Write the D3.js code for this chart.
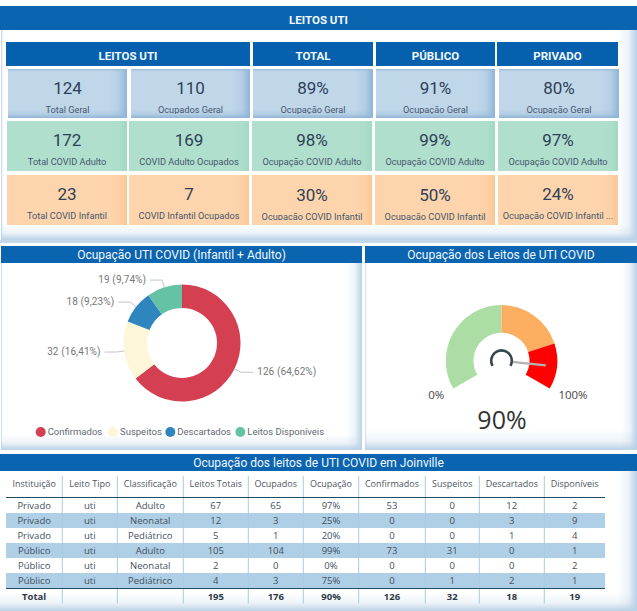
<!DOCTYPE html>
<html>
<head>
<meta charset="utf-8">
<style>
  html, body { margin: 0; padding: 0; background: #fff; overflow: hidden; }
  svg { display: block; }
  text { font-family: Roboto, sans-serif; }
</style>
</head>
<body>
<svg id="chart"></svg>
<script src="https://cdn.jsdelivr.net/npm/d3@7"></script>
<script>
const width = 637;
const height = 611;

// cards
const columnTitles = ['LEITOS UTI', 'TOTAL', 'PÚBLICO', 'PRIVADO'];
const cardValues = [
  ['124', '110', '89%', '91%', '80%'],
  ['172', '169', '98%', '99%', '97%'],
  ['23', '7', '30%', '50%', '24%']
];
const cardLabels = [
  ['Total Geral', 'Ocupados Geral', 'Ocupação Geral', 'Ocupação Geral', 'Ocupação Geral'],
  ['Total COVID Adulto', 'COVID Adulto Ocupados', 'Ocupação COVID Adulto', 'Ocupação COVID Adulto', 'Ocupação COVID Adulto'],
  ['Total COVID Infantil', 'COVID Infantil Ocupados', 'Ocupação COVID Infantil', 'Ocupação COVID Infantil', 'Ocupação COVID Infantil ...']
];

// donut
const donutNames = ['Confirmados', 'Suspeitos', 'Descartados', 'Leitos Disponíveis'];
const donutValues = [126, 32, 18, 19];
const donutPercents = ['64,62%', '16,41%', '9,23%', '9,74%'];
const donutColors = ['#d53f52', '#fdf6d8', '#2f85bd', '#66c2a5'];

// gauge
const gaugeValue = 90;
const gaugeStops = [0, 50, 80, 100];
const gaugeColors = ['#abdda4', '#fdae61', '#ff0000'];

// table
const tableHeader = ['Instituição', 'Leito Tipo', 'Classificação', 'Leitos Totais', 'Ocupados', 'Ocupação', 'Confirmados', 'Suspeitos', 'Descartados', 'Disponíveis'];
const tableRows = [
  ['Privado', 'uti', 'Adulto', '67', '65', '97%', '53', '0', '12', '2'],
  ['Privado', 'uti', 'Neonatal', '12', '3', '25%', '0', '0', '3', '9'],
  ['Privado', 'uti', 'Pediátrico', '5', '1', '20%', '0', '0', '1', '4'],
  ['Público', 'uti', 'Adulto', '105', '104', '99%', '73', '31', '0', '1'],
  ['Público', 'uti', 'Neonatal', '2', '0', '0%', '0', '0', '0', '2'],
  ['Público', 'uti', 'Pediátrico', '4', '3', '75%', '0', '1', '2', '1']
];
const tableTotal = ['Total', '', '', '195', '176', '90%', '126', '32', '18', '19'];

const blue = '#0a64b0';
const edgeBlue = '#b9d1e7';

const svg = d3.select('#chart')
  .attr('width', width)
  .attr('height', height)
  .attr('viewBox', `0 0 ${width} ${height}`);

const defs = svg.append('defs');

// one fade per colour and direction, used for the inner shadow of panels and cards
function fade(id, color, x2, y2, reverse) {
  const g = defs.append('linearGradient')
    .attr('id', id)
    .attr('x1', reverse ? x2 : 0).attr('y1', reverse ? y2 : 0)
    .attr('x2', reverse ? 0 : x2).attr('y2', reverse ? 0 : y2);
  g.append('stop').attr('offset', 0).attr('stop-color', color).attr('stop-opacity', 0);
  g.append('stop').attr('offset', 0.55).attr('stop-color', color).attr('stop-opacity', 0.25);
  g.append('stop').attr('offset', 1).attr('stop-color', color).attr('stop-opacity', 1);
}

const shades = {
  edge: edgeBlue,
  blue: '#8fb4d8',
  green: '#a0d9c2',
  orange: '#fcc795'
};
Object.entries(shades).forEach(([name, color]) => {
  fade(`${name}-r`, color, 1, 0, false);
  fade(`${name}-b`, color, 0, 1, false);
  fade(`${name}-l`, color, 1, 0, true);
  fade(`${name}-t`, color, 0, 1, true);
});

function shadow(g, x, y, w, h, name, sizes) {
  if (sizes.r) g.append('rect').attr('x', x + w - sizes.r).attr('y', y).attr('width', sizes.r).attr('height', h).attr('fill', `url(#${name}-r)`);
  if (sizes.b) g.append('rect').attr('x', x).attr('y', y + h - sizes.b).attr('width', w).attr('height', sizes.b).attr('fill', `url(#${name}-b)`);
  if (sizes.l) g.append('rect').attr('x', x).attr('y', y).attr('width', sizes.l).attr('height', h).attr('fill', `url(#${name}-l)`);
  if (sizes.t) g.append('rect').attr('x', x).attr('y', y).attr('width', w).attr('height', sizes.t).attr('fill', `url(#${name}-t)`);
}

function label(g, x, y, str, size, color, anchor, weight, spacing) {
  return g.append('text')
    .attr('x', x).attr('y', y)
    .attr('dy', '.35em')
    .attr('text-anchor', anchor || 'middle')
    .attr('font-size', size)
    .attr('font-weight', weight || 400)
    .attr('letter-spacing', spacing || 0)
    .attr('fill', color)
    .text(str);
}

function panel(x, y, w, h, sizes) {
  const g = svg.append('g');
  g.append('rect').attr('x', x).attr('y', y).attr('width', w).attr('height', h).attr('fill', '#fff');
  shadow(g, x, y, w, h, 'edge', sizes);
  return g;
}

function sectionHeader(x, y, w, h, str, size, weight, textY) {
  svg.append('rect').attr('x', x).attr('y', y).attr('width', w).attr('height', h).attr('fill', blue);
  label(svg, x + w / 2, textY || y + h / 2, str, size, '#f2f8fd', 'middle', weight || 400, 0);
}

// ---- top block
panel(1, 30, 636, 210, {r: 20, b: 16, l: 3});
svg.append('rect').attr('x', 0).attr('y', 240).attr('width', width).attr('height', 3).attr('fill', '#c5d9ec');
sectionHeader(0, 6, width, 24, 'LEITOS UTI', 11.5, 700, 20);

const columnEdges = [[6, 250], [253, 373], [376, 495], [497, 618]];
svg.append('g').selectAll('rect')
  .data(columnEdges)
  .join('rect')
  .attr('x', d => d[0]).attr('y', 42)
  .attr('width', d => d[1] - d[0]).attr('height', 24)
  .attr('fill', '#0560ae');
columnTitles.forEach((t, i) => {
  label(svg, (columnEdges[i][0] + columnEdges[i][1]) / 2, 55.7, t, 11.5, '#f2f8fd', 'middle', 700, 0);
});

const cardRows = [
  {y0: 69, y1: 118, xs: [[8, 127], [131, 250], [253, 373], [376, 495], [499, 619]], fill: '#c0d7e9', shade: 'blue', valueY: [88, 88, 88, 88, 88], labelY: [109.5, 109.5, 109.5, 109.5, 109.5], clipY: 114},
  {y0: 121, y1: 171, xs: [[7, 127], [129, 249], [252, 372], [375, 495], [498, 618]], fill: '#b0dfcd', shade: 'green', valueY: [140, 140, 140, 140, 140], labelY: [161.5, 161.5, 161.5, 161.5, 161.5], clipY: 171},
  {y0: 175, y1: 225, xs: [[7, 127], [129, 249], [252, 372], [375, 495], [498, 618]], fill: '#fdd4ac', shade: 'orange', valueY: [194, 194, 195, 195, 194], labelY: [216, 216, 217, 217, 216], clipY: 220}
];

cardRows.forEach((row, r) => {
  defs.append('clipPath').attr('id', `card-clip-${r}`)
    .append('rect').attr('x', 0).attr('y', row.y0).attr('width', width).attr('height', row.clipY - row.y0);
  row.xs.forEach(([x0, x1], c) => {
    const g = svg.append('g');
    const w = x1 - x0;
    const h = row.y1 - row.y0;
    g.append('rect').attr('x', x0).attr('y', row.y0).attr('width', w).attr('height', h).attr('fill', row.fill);
    shadow(g, x0, row.y0, w, h, row.shade, r === 0 ? {r: 18, b: 9, t: 3} : {r: 16});
    const cx = (x0 + x1) / 2;
    label(g, cx, row.valueY[c], cardValues[r][c], 17, '#2e4058', 'middle', 400, 0);
    label(g, cx, row.labelY[c], cardLabels[r][c], 9.2, '#46566c', 'middle', 400, 0)
      .attr('clip-path', `url(#card-clip-${r})`);
  });
});

// ---- donut block
panel(1, 263, 361, 187, {r: 16, b: 16, l: 2});
sectionHeader(1, 246, 361, 17, 'Ocupação UTI COVID (Infantil + Adulto)', 12);

const donutCenter = [182, 343];
const outerR = 58.5;
const innerR = 35;
const elbowR = 66;

const pie = d3.pie().sort(null).value(d => d);
const donutArcs = pie(donutValues);
const arc = d3.arc().innerRadius(innerR).outerRadius(outerR);

const donut = svg.append('g').attr('transform', `translate(${donutCenter})`);
donut.selectAll('path')
  .data(donutArcs)
  .join('path')
  .attr('d', arc)
  .attr('fill', (d, i) => donutColors[i]);

const midAngle = d => (d.startAngle + d.endAngle) / 2;
const polar = (r, a) => [r * Math.sin(a), -r * Math.cos(a)];

donutArcs.forEach((d, i) => {
  const a = midAngle(d);
  const side = Math.sin(a) > 0 ? 1 : -1;
  const p0 = polar(outerR, a);
  const p1 = polar(elbowR, a);
  const p2 = [p1[0] + side * 12, p1[1]];
  donut.append('polyline')
    .attr('points', [p0, p1, p2].join(' '))
    .attr('fill', 'none')
    .attr('stroke', '#c4c4c4')
    .attr('stroke-width', 1);
  label(donut, p2[0] + side * 4, p2[1] - 0.5, `${donutValues[i]} (${donutPercents[i]})`, 10, '#777', side > 0 ? 'start' : 'end', 400, 0.1);
});

const legendDots = [40.7, 113, 170.3, 240.3];
const legend = svg.append('g');
legend.selectAll('circle')
  .data(donutNames)
  .join('circle')
  .attr('cx', (d, i) => legendDots[i])
  .attr('cy', 432)
  .attr('r', 5)
  .attr('fill', (d, i) => donutColors[i]);
donutNames.forEach((n, i) => {
  label(legend, legendDots[i] + 7, 431.5, n, 9.5, '#5f6a75', 'start', 400, 0);
});

// ---- gauge block
panel(365, 263, 272, 187, {r: 16, b: 20, l: 2});
sectionHeader(365, 246, 272, 17, 'Ocupação dos Leitos de UTI COVID', 12);

const gaugeCenter = [501.5, 360.7];
const gaugeScale = d3.scaleLinear().domain([0, 100]).range([-2 * Math.PI / 3, 2 * Math.PI / 3]);
const gaugeArc = d3.arc().innerRadius(28).outerRadius(55.7);

const gauge = svg.append('g').attr('transform', `translate(${gaugeCenter})`);
gauge.selectAll('path.band')
  .data(gaugeColors)
  .join('path')
  .attr('class', 'band')
  .attr('fill', d => d)
  .attr('d', (d, i) => gaugeArc({startAngle: gaugeScale(gaugeStops[i]), endAngle: gaugeScale(gaugeStops[i + 1])}));

const needleAngle = gaugeScale(gaugeValue);
gauge.append('line')
  .attr('x1', polar(10.5, needleAngle)[0]).attr('y1', polar(10.5, needleAngle)[1])
  .attr('x2', polar(44.5, needleAngle)[0]).attr('y2', polar(44.5, needleAngle)[1])
  .attr('stroke', '#b3b3b3')
  .attr('stroke-width', 2.2);
gauge.append('path')
  .attr('d', d3.arc().innerRadius(9).outerRadius(11.6)({startAngle: gaugeScale(0), endAngle: gaugeScale(100)}))
  .attr('fill', '#37474f');

label(svg, 436.3, 394.7, '0%', 11.5, '#444', 'middle').style('font-family', '"Open Sans"');
label(svg, 573, 394.7, '100%', 11.5, '#444', 'middle').style('font-family', '"Open Sans"');
label(svg, 502, 420.5, `${gaugeValue}%`, 25, '#333', 'middle').style('font-family', '"Open Sans"');

// ---- table block
panel(0, 471, 637, 140, {r: 20, b: 18});
sectionHeader(0, 454, width, 17, 'Ocupação dos leitos de UTI COVID em Joinville', 12);

const colEdges = [6, 62.3, 117.3, 183.3, 248.3, 303.3, 358.7, 425.3, 479.3, 544.3, 605];
const rowEdges = [497.5, 513, 528, 543, 558, 573, 588];
const colCenter = i => (colEdges[i] + colEdges[i + 1]) / 2;

const table = svg.append('g');
table.selectAll('rect.band')
  .data(tableRows.map((d, i) => i).filter(i => i % 2 === 1))
  .join('rect')
  .attr('class', 'band')
  .attr('x', colEdges[0])
  .attr('y', i => rowEdges[i])
  .attr('width', colEdges[10] - colEdges[0])
  .attr('height', i => rowEdges[i + 1] - rowEdges[i])
  .attr('fill', '#aecfe5');

table.selectAll('line.sep')
  .data(colEdges.slice(1, 10))
  .join('line')
  .attr('class', 'sep')
  .attr('x1', d => d).attr('x2', d => d)
  .attr('y1', 476).attr('y2', 603.5)
  .attr('stroke', '#a9cbe3')
  .attr('stroke-width', 1);

[497.5, 588.5].forEach(y => {
  table.append('line')
    .attr('x1', colEdges[0]).attr('x2', colEdges[10])
    .attr('y1', y).attr('y2', y)
    .attr('stroke', '#1f4a63')
    .attr('stroke-width', 1);
});

tableHeader.forEach((t, c) => {
  label(table, colCenter(c), 484, t, 9, '#4d5763', 'middle', 400, 0).style('font-family', '"Open Sans"');
});
tableRows.forEach((row, r) => {
  row.forEach((t, c) => {
    label(table, colCenter(c), (rowEdges[r] + rowEdges[r + 1]) / 2, t, 9.5, '#44505e', 'middle', 400, 0).style('font-family', '"Open Sans"');
  });
});
tableTotal.forEach((t, c) => {
  label(table, colCenter(c), 596.5, t, 9.5, '#2e3a46', 'middle', 700, 0).style('font-family', '"Open Sans"');
});
</script>
</body>
</html>
